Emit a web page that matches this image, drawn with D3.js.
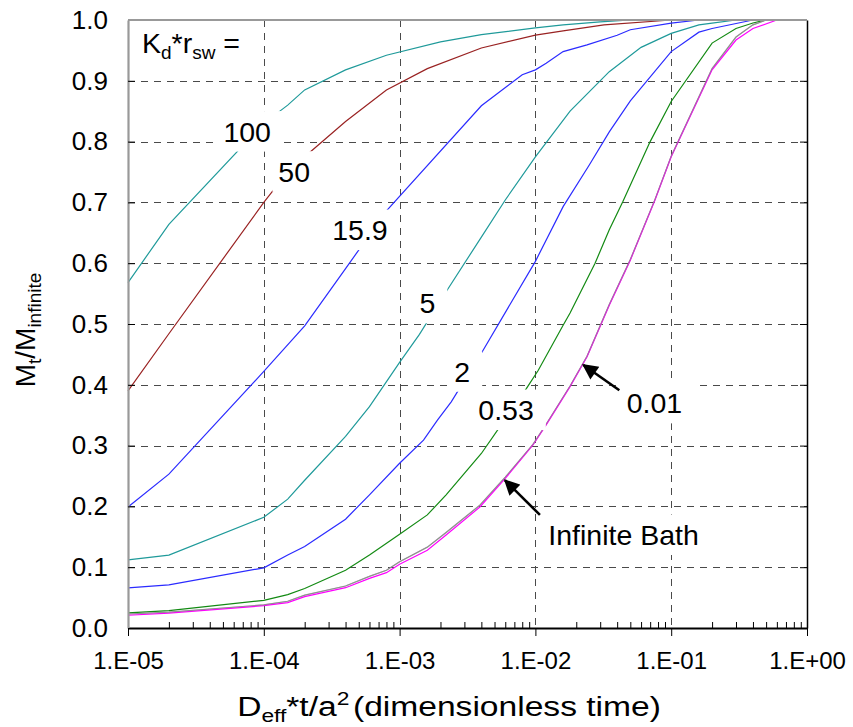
<!DOCTYPE html>
<html><head><meta charset="utf-8">
<script src="https://cdn.jsdelivr.net/npm/d3@7"></script>
<style>body{margin:0;background:#fff}</style>
</head><body><svg id="c" width="853" height="727"></svg>
<script>
// ---- data (x = dimensionless time, y = Mt/Minfinite) ----
const s100 = [[1e-5,0.568],[2e-5,0.664],[1e-4,0.830],[1.5e-4,0.860],[2e-4,0.885],[4e-4,0.918],[8e-4,0.942],[2e-3,0.964],[4e-3,0.976],[1e-2,0.987],[1.6e-2,0.992],[3e-2,0.997],[5e-2,1.0]];
const s50 = [[1e-5,0.390],[2e-5,0.484],[1e-4,0.700],[1.5e-4,0.750],[2e-4,0.775],[4e-4,0.833],[8e-4,0.885],[1.6e-3,0.920],[4e-3,0.954],[1e-2,0.975],[1.6e-2,0.982],[3.2e-2,0.992],[1e-1,1.0]];
const s15_9 = [[1e-5,0.199],[2e-5,0.253],[1e-4,0.422],[2e-4,0.497],[4e-4,0.591],[8e-4,0.686],[4e-3,0.859],[8e-3,0.910],[1e-2,0.918],[1.2e-2,0.929],[1.6e-2,0.948],[2.4e-2,0.959],[4e-2,0.975],[5e-2,0.984],[1e-1,0.995],[1.6e-1,1.0]];
const s5 = [[1e-5,0.112],[2e-5,0.120],[1e-4,0.182],[1.5e-4,0.212],[2e-4,0.243],[4e-4,0.315],[6e-4,0.364],[1e-3,0.437],[1.4e-3,0.483],[2.2e-3,0.553],[4e-3,0.643],[6e-3,0.704],[1e-2,0.775],[1.8e-2,0.850],[3.5e-2,0.915],[6e-2,0.955],[1e-1,0.978],[1.6e-1,0.992],[2e-1,0.995],[3e-1,1.0]];
const s2 = [[1e-5,0.066],[2e-5,0.071],[1e-4,0.099],[1.5e-4,0.120],[2e-4,0.134],[4e-4,0.179],[6e-4,0.219],[1e-3,0.271],[1.5e-3,0.309],[1.9e-3,0.342],[2.4e-3,0.372],[4e-3,0.452],[1e-2,0.603],[1.6e-2,0.693],[2.5e-2,0.762],[3.5e-2,0.816],[5e-2,0.867],[1e-1,0.948],[1.6e-1,0.980],[2e-1,0.986],[4e-1,1.0]];
const s053 = [[1e-5,0.025],[2e-5,0.0285],[1e-4,0.0455],[1.5e-4,0.055],[2e-4,0.065],[4e-4,0.095],[6e-4,0.120],[1e-3,0.154],[1.6e-3,0.186],[2.2e-3,0.219],[4e-3,0.287],[5.6e-3,0.334],[8.6e-3,0.394],[1.05e-2,0.424],[1.6e-2,0.498],[1.8e-2,0.518],[2.75e-2,0.600],[3.5e-2,0.655],[4.4e-2,0.701],[7e-2,0.800],[1e-1,0.866],[2e-1,0.962],[3e-1,0.986],[4e-1,0.995],[5e-1,1.0]];
const s001 = [[1e-5,0.023],[2e-5,0.026],[1e-4,0.038],[1.5e-4,0.044],[2e-4,0.054],[4e-4,0.069],[6e-4,0.085],[8e-4,0.095],[1e-3,0.109],[1.6e-3,0.133],[2.2e-3,0.157],[3.9e-3,0.202],[6e-3,0.248],[9.6e-3,0.302],[1.2e-2,0.335],[1.8e-2,0.398],[2.4e-2,0.447],[3.5e-2,0.532],[5e-2,0.606],[7.6e-2,0.705],[1e-1,0.776],[2e-1,0.920],[3e-1,0.972],[4e-1,0.992],[5e-1,1.0]];
const sInf = [[1e-5,0.021],[2e-5,0.0245],[1e-4,0.0367],[1.5e-4,0.0417],[2e-4,0.0516],[4e-4,0.0663],[6e-4,0.0817],[8e-4,0.091],[1e-3,0.105],[1.6e-3,0.128],[2.2e-3,0.153],[3.9e-3,0.199],[6e-3,0.246],[9.6e-3,0.301],[1.2e-2,0.334],[1.8e-2,0.397],[2.4e-2,0.446],[3.5e-2,0.531],[5e-2,0.605],[7.6e-2,0.704],[1e-1,0.775],[2e-1,0.918],[3e-1,0.967],[4e-1,0.986],[6e-1,1.0]];

const seriesNames = ["100","50","15.9","5","2","0.53","0.01","Infinite Bath"];
const seriesData = [s100, s50, s15_9, s5, s2, s053, s001, sInf];
const seriesColors = ["#1f9a9a","#992222","#2b2bff","#1f9a9a","#2b2bff","#138a13","#8a8a8a","#ff00ff"];

const xTickValues = [1e-5,1e-4,1e-3,1e-2,1e-1,1];
const yTickValues = [0,0.1,0.2,0.3,0.4,0.5,0.6,0.7,0.8,0.9,1.0];

// curve labels: [text, x (left), y (baseline)] in data coords
const curveLabels = [["100",5.04e-5,0.800],["50",1.28e-4,0.734],["15.9",3.19e-4,0.638],["5",1.40e-3,0.5176],["2",2.53e-3,0.405],["0.53",3.80e-3,0.342],["0.01",0.047,0.353],["Infinite Bath",0.01245,0.1365]];
// arrows: [x from, y from, x to, y to]
const arrows = [[0.0108,0.186,0.00597,0.243],[0.0415,0.391,0.02255,0.4326]];

// ---- drawing ----
const FONT = "Arial, 'Liberation Sans', sans-serif";
const svg = d3.select('#c').style('font-family', FONT);
const x = d3.scaleLog().domain([1e-5,1]).range([128,807]);
const y = d3.scaleLinear().domain([0,1]).range([628,20]);

// grid
const grid = svg.append('g').attr('stroke','#4a4a4a').attr('stroke-width',1).attr('stroke-dasharray','7,6');
grid.selectAll('line.h').data(yTickValues.filter(d=>d>0&&d<1)).join('line')
  .attr('x1',x(1e-5)).attr('x2',x(1)).attr('y1',d=>Math.round(y(d))+0.5).attr('y2',d=>Math.round(y(d))+0.5);
grid.selectAll('line.v').data(xTickValues.slice(1,-1)).join('line')
  .attr('y1',y(1)).attr('y2',y(0)).attr('x1',d=>Math.round(x(d))+0.5).attr('x2',d=>Math.round(x(d))+0.5);

// curves
const line = d3.line().x(d=>x(d[0])).y(d=>y(d[1]));
const curves = svg.append('g').attr('fill','none');
seriesData.forEach((s,i)=>{
  curves.append('path').datum(s).attr('d',line)
    .attr('stroke',seriesColors[i]).attr('stroke-width',1.2)
    .attr('stroke-opacity', seriesNames[i]==="0.01"?0.9:1);
});
// 0.01 semi-transparent on top of infinite bath for the blended look
curves.append('path').datum(s001).attr('d',line).attr('stroke','#8a8a8a').attr('stroke-width',1.1).attr('stroke-opacity',0.55);

// label boxes + text
const LFS = 28.5;
const labG = svg.append('g');
curveLabels.forEach(([t,lx,ly])=>{
  const px = x(lx), py = y(ly);
  const txt = labG.append('text').attr('x',px).attr('y',py).attr('font-size',LFS).attr('fill','#000').text(t);
  const bb = txt.node().getBBox();
  const top = py - 0.72*LFS;
  labG.insert('rect','text').attr('x',bb.x-6).attr('y',top-10).attr('width',bb.width+18).attr('height',(py-top)+20).attr('fill','#fff');
});

// "Kd*rsw ="
const kt = svg.append('text').attr('x',x(1.226e-5)+2).attr('y',y(0.945)).attr('font-size',LFS);
kt.append('tspan').text('K');
kt.append('tspan').attr('font-size',19).attr('dy',6).text('d');
kt.append('tspan').attr('dy',-6).text('*r');
kt.append('tspan').attr('font-size',19).attr('dy',6).text('sw');
kt.append('tspan').attr('dy',-6).text(' =');

// arrows
const defs = svg.append('defs');
defs.append('marker').attr('id','ah').attr('viewBox','0 0 10 10').attr('refX',9).attr('refY',5)
  .attr('markerWidth',6.5).attr('markerHeight',6).attr('markerUnits','strokeWidth').attr('orient','auto')
  .append('path').attr('d','M0,0 L10,5 L0,10 Z').attr('fill','#000');
svg.append('g').selectAll('line').data(arrows).join('line')
  .attr('x1',d=>x(d[0])).attr('y1',d=>y(d[1])).attr('x2',d=>x(d[2])).attr('y2',d=>y(d[3]))
  .attr('stroke','#000').attr('stroke-width',2.6).attr('marker-end','url(#ah)');

// axes
const fmtX = d=>{const e=Math.round(Math.log10(d));return '1.E'+(e<0?'-':'+')+String(Math.abs(e)).padStart(2,'0');};
const minors = [];
for(let e=-5;e<0;e++) for(let m=2;m<10;m++) minors.push(m*Math.pow(10,e));

const xMinor = svg.append('g').attr('transform','translate(0,628)')
  .call(d3.axisBottom(x).tickValues(minors).tickSize(-6).tickSizeOuter(0).tickFormat(''));
xMinor.select('.domain').remove();
const xAx = svg.append('g').attr('transform','translate(0,628)')
  .call(d3.axisBottom(x).tickValues(xTickValues).tickSize(8).tickSizeOuter(0).tickFormat(fmtX).tickPadding(16));
xAx.select('.domain').attr('stroke','#000').attr('stroke-width',2);
xAx.selectAll('text').attr('font-size',24).attr('font-family',FONT).attr('fill','#000');

const yAx = svg.append('g').attr('transform','translate(128,0)')
  .call(d3.axisLeft(y).tickValues(yTickValues).tickSize(-7).tickSizeOuter(0).tickFormat(d3.format('.1f')).tickPadding(20));
yAx.select('.domain').attr('stroke','#999').attr('stroke-width',2.2);
yAx.selectAll('text').attr('font-size',26).attr('font-family',FONT).attr('fill','#000');

const yAxR = svg.append('g').attr('transform','translate(807,0)')
  .call(d3.axisRight(y).tickValues(yTickValues).tickSize(-7).tickSizeOuter(0).tickFormat(''));
yAxR.select('.domain').attr('stroke','#000').attr('stroke-width',1.5);

svg.append('line').attr('x1',x(1e-5)).attr('x2',x(1)).attr('y1',y(1)).attr('y2',y(1)).attr('stroke','#999').attr('stroke-width',2.2);

// axis titles
const xt = svg.append('text').attr('transform','translate(449,716) scale(1.2,1)').attr('text-anchor','middle').attr('font-size',28);
xt.append('tspan').text('D');
xt.append('tspan').attr('font-size',19).attr('dy',6).text('eff');
xt.append('tspan').attr('dy',-6).text('*t/a');
xt.append('tspan').attr('font-size',19).attr('dy',-11).text('2');
xt.append('tspan').attr('dy',11).attr('dx',3).text('(dimensionless time)');

const yt = svg.append('text').attr('transform','translate(35,330) rotate(-90)').attr('text-anchor','middle').attr('font-size',28);
yt.append('tspan').text('M');
yt.append('tspan').attr('font-size',19).attr('dy',6).text('t');
yt.append('tspan').attr('dy',-6).text('/M');
yt.append('tspan').attr('font-size',19).attr('dy',6).text('infinite');
</script></body></html>
